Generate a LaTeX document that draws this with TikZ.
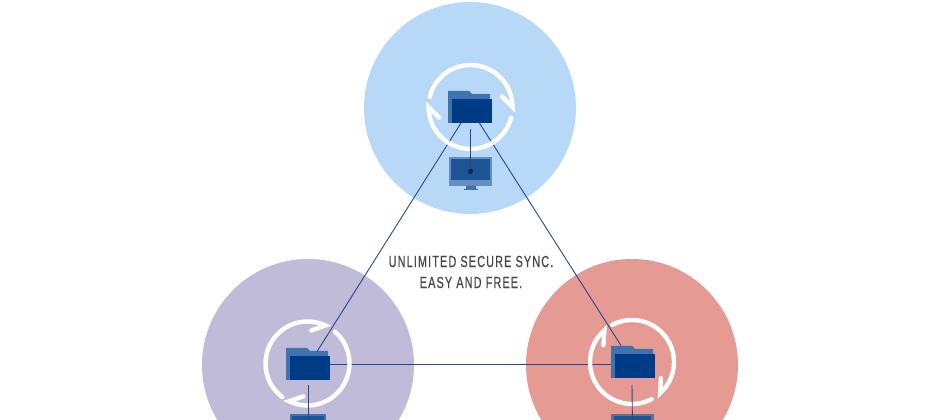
\documentclass[tikz,border=0pt]{standalone}
\usepackage{fontspec}
\setmainfont[FakeStretch=0.68,LetterSpace=7,FakeBold=0.5]{Liberation Sans}
\definecolor{topblue}{HTML}{B8D8F8}
\definecolor{leftlilac}{HTML}{C1BBDA}
\definecolor{rightred}{HTML}{E59A94}
\definecolor{folderback}{HTML}{3F72AE}
\definecolor{folderfront}{HTML}{003C85}
\definecolor{screenblue}{HTML}{1C5496}
\definecolor{linkblue}{HTML}{24498A}
\tikzset{
    sitecircle/.style={circle,minimum size=212pt,inner sep=0pt},
    frontbox/.style={fill=folderfront,minimum width=40pt,minimum height=24pt,inner sep=0pt},
    monitorbox/.style={minimum height=29pt,inner sep=0pt},
    syncline/.style={draw=white,line width=4.4pt,line cap=round,line join=miter},
    linkline/.style={draw=linkblue,line width=0.9pt},
}
\newcommand{\foldericon}[3]{
    \fill[folderback] (#2,#3) -- ++(42,0) -- ++(0,29) -- ++(-18,0) -- ++(-3,3) -- ++(-21,0) -- cycle;
    \node[frontbox,anchor=south west] (#1) at (#2+4,#3) {};
}
\begin{document}
\begin{tikzpicture}[x=1pt,y=1pt]
    \useasboundingbox (0,0) rectangle (940,420);
    \clip (0,0) rectangle (940,420);
    \node[sitecircle,fill=topblue] (topsite) at (470,312) {};
    \node[sitecircle,fill=leftlilac] (leftsite) at (308,55) {};
    \node[sitecircle,fill=rightred] (rightsite) at (632,55) {};
    % monitors
    \node[monitorbox,fill=folderback!80!white,minimum width=43pt] (topscreen) at (470.5,248.5) {};
    \fill[screenblue] (451,240) rectangle (490,261);
    \fill[folderback] (466,231) rectangle (476,234) (464,230) rectangle (478,231);
    \node[monitorbox,fill=folderback,minimum width=36pt] (leftscreen) at (308,-8.5) {};
    \fill[screenblue] (292,-10) rectangle (324,4);
    \node[monitorbox,fill=black!20!folderback!70!rightred,minimum width=43pt] (rightscreen) at (632.5,-8.5) {};
    \fill[screenblue] (614,-10) rectangle (651,4);
    % folders
    \foldericon{topfolder}{448}{297}
    \foldericon{leftfolder}{286}{40}
    \foldericon{rightfolder}{611}{42}
    % links
    \draw[linkline] ([xshift=9pt]topfolder.south west) -- ([xshift=27pt,yshift=4pt]leftfolder.north west);
    \draw[linkline] ([xshift=-13pt]topfolder.south east) -- ([xshift=6pt,yshift=8pt]rightfolder.north west);
    \draw[linkline] ([yshift=3.5pt]leftfolder.east) -- ([xshift=-4pt,yshift=3.5pt]rightfolder.west |- leftfolder.east);
    % rings
    \foreach \cx/\cy/\sa/\ea/\sb/\eb in {470.5/313/166/0/-15/-180,307.5/56.5/233/65/49/-116,632/58/118/-48/-62/-229}{
        \draw[syncline] (\cx,\cy) ++(\sa:42) arc[start angle=\sa,end angle=\ea,radius=42] -- ++(\ea+135:15);
        \draw[syncline] (\cx,\cy) ++(\sb:42) arc[start angle=\sb,end angle=\eb,radius=42] -- ++(\eb+135:15);
    }
    % drops
    \coordinate (topdrop) at (470.5,291);
    \coordinate (leftdrop) at (308,35);
    \coordinate (rightdrop) at (632,35);
    \draw[linkline] (topdrop) -- (topscreen.center);
    \draw[linkline] (leftdrop) -- (leftscreen.center);
    \draw[linkline] (rightdrop) -- (rightscreen.center);
    \fill[folderfront!60!black] (topscreen.center) circle (2.5);
    \node[text=black!72,font=\fontsize{16}{21}\selectfont,align=center,inner sep=0pt] (slogan) at (471,148) {UNLIMITED SECURE SYNC.\\EASY AND FREE.};
\end{tikzpicture}
\end{document}
